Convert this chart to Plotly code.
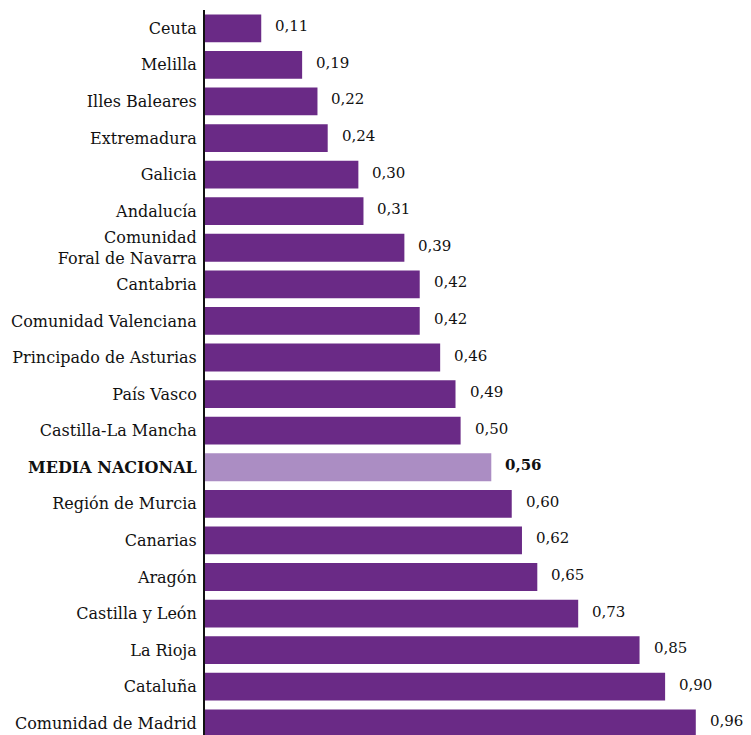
import plotly.graph_objects as go

categories = ["Ceuta", "Melilla", "Illes Baleares", "Extremadura", "Galicia", "Andalucía",
              "Comunidad<br>Foral de Navarra", "Cantabria", "Comunidad Valenciana",
              "Principado de Asturias", "País Vasco", "Castilla-La Mancha",
              "<b>MEDIA NACIONAL</b>", "Región de Murcia", "Canarias", "Aragón",
              "Castilla y León", "La Rioja", "Cataluña", "Comunidad de Madrid"]
values = [0.11, 0.19, 0.22, 0.24, 0.30, 0.31, 0.39, 0.42, 0.42, 0.46, 0.49, 0.50,
          0.56, 0.60, 0.62, 0.65, 0.73, 0.85, 0.90, 0.96]
highlight = "<b>MEDIA NACIONAL</b>"

BAR = "#6a2a86"
MEDIA = "#ab8dc3"
FONT = "DejaVu Serif"

colors = [MEDIA if c == highlight else BAR for c in categories]

fig = go.Figure(go.Bar(
    x=values, y=categories, orientation="h",
    marker=dict(color=colors, line=dict(width=0)),
    hoverinfo="skip",
))

for c, v in zip(categories, values):
    txt = f"{v:.2f}".replace(".", ",")
    if c == highlight:
        txt = f"<b>{txt}</b>"
    fig.add_annotation(x=v, y=c, text=txt, showarrow=False, xanchor="left",
                       xshift=12, yshift=2, font=dict(family=FONT, size=15, color="#111111"))

fig.update_layout(
    width=743, height=727,
    margin=dict(l=197, r=0, t=2, b=0, autoexpand=False),
    paper_bgcolor="white", plot_bgcolor="white",
    bargap=0.24,
    showlegend=False,
    font=dict(family=FONT, size=16, color="#111111"),
)
fig.update_xaxes(range=[0, 1.068], visible=False, showgrid=False, zeroline=False,
                 automargin=False)
fig.update_yaxes(categoryorder="array", categoryarray=categories, range=[19.32, -0.5],
                 showline=True, linecolor="#111111", linewidth=2, showgrid=False,
                 automargin=False, ticks="", ticklabelstandoff=3,
                 tickfont=dict(family=FONT, size=16))

fig.write_html("out.html")
